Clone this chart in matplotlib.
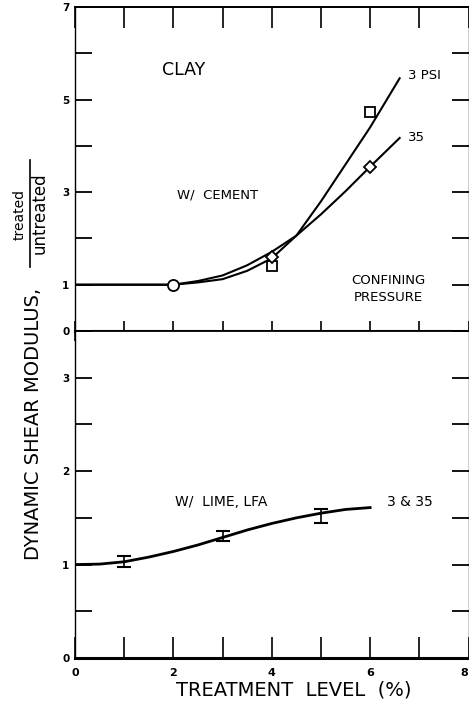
import matplotlib.pyplot as plt
from matplotlib.lines import Line2D
import numpy as np

# ---- upper panel: clay w/ cement ----
psi3_x = [0, 2, 2.5, 3, 3.5, 4, 4.5, 5, 5.5, 6, 6.6]
psi3_y = [1.0, 1.0, 1.05, 1.12, 1.3, 1.57, 2.06, 2.8, 3.6, 4.4, 5.46]
psi35_x = [0, 2, 2.5, 3, 3.5, 4, 4.5, 5, 5.5, 6, 6.6]
psi35_y = [1.0, 1.0, 1.08, 1.2, 1.42, 1.71, 2.06, 2.52, 3.02, 3.55, 4.17]

circle_pt = ([2], [1.0])
square_pts = ([4, 6], [1.4, 4.73])
diamond_pts = ([4, 6], [1.6, 3.54])

upper_yticks = [0, 1, 2, 3, 4, 5, 6, 7]
upper_yticklabels = ['0', '1', '', '3', '', '5', '', '7']

# ---- lower panel: w/ lime, LFA ----
lime_x = [0, 0.5, 1, 1.5, 2, 2.5, 3, 3.5, 4, 4.5, 5, 5.5, 6]
lime_y = [1.0, 1.005, 1.03, 1.08, 1.14, 1.21, 1.29, 1.37, 1.44, 1.5, 1.55, 1.59, 1.61]
err_x = [1, 3, 5]
err_lo = [0.97, 1.25, 1.44]
err_hi = [1.09, 1.36, 1.59]

lower_yticks = [0, 0.5, 1, 1.5, 2, 2.5, 3, 3.5]
lower_yticklabels = ['0', '', '1', '', '2', '', '3', '']
xticks = [0, 1, 2, 3, 4, 5, 6, 7, 8]
xticklabels = ['0', '', '2', '', '4', '', '6', '', '8']

plt.rcParams['font.family'] = ['DejaVu Sans']

W, H = 469, 704
fig = plt.figure(figsize=(W / 100, H / 100), dpi=100)

left = 75 / W
width = (468.5 - 75) / W
ax1 = fig.add_axes([left, 1 - 331 / H, width, (331 - 7) / H])
ax2 = fig.add_axes([left, 1 - 658 / H, width, (658 - 331) / H])

# upper
ax1.plot(psi3_x, psi3_y, color='black', lw=1.5)
ax1.plot(psi35_x, psi35_y, color='black', lw=1.5)
ax1.plot(*circle_pt, 'o', ms=8, mfc='white', mec='black', mew=1.3)
ax1.plot(*square_pts, 's', ms=7, mfc='white', mec='black', mew=1.3)
ax1.plot(*diamond_pts, 'D', ms=6.5, mfc='white', mec='black', mew=1.3)

ax1.set_xlim(0, 8)
ax1.set_ylim(0, 7)
ax1.set_yticks(upper_yticks)
ax1.set_yticklabels(upper_yticklabels)
ax1.set_xticks(xticks)
ax1.tick_params(axis='x', bottom=True, top=False, labelbottom=False,
                direction='inout', length=14, width=1.2)
sec = ax1.secondary_xaxis('top')
sec.set_xticks(xticks)
sec.tick_params(direction='in', length=15, width=1.2, labeltop=False)
sec.spines['top'].set_linewidth(1.3)

ax1.text(1.76, 5.64, 'CLAY', fontsize=12.5, va='center', ha='left')
ax1.text(2.07, 2.94, 'W/  CEMENT', fontsize=9.5, va='center', ha='left')
ax1.text(6.37, 0.9, 'CONFINING\nPRESSURE', fontsize=9.5, va='center', ha='center',
         linespacing=1.4)
ax1.text(6.76, 5.53, '3 PSI', fontsize=9.5, va='center', ha='left')
ax1.text(6.76, 4.19, '35', fontsize=9.5, va='center', ha='left')

# lower
ax2.plot(lime_x, lime_y, color='black', lw=2)
err_mid = [(a + b) / 2 for a, b in zip(err_lo, err_hi)]
err_half = [(b - a) / 2 for a, b in zip(err_lo, err_hi)]
ax2.errorbar(err_x, err_mid, yerr=err_half, fmt='none', ecolor='black',
             elinewidth=1.2, capsize=5, capthick=1.5)

ax2.set_xlim(0, 8)
ax2.set_ylim(0, 3.5)
ax2.set_yticks(lower_yticks)
ax2.set_yticklabels(lower_yticklabels)
ax2.set_xticks(xticks)
ax2.set_xticklabels(xticklabels)
ax2.tick_params(axis='x', bottom=True, top=False, direction='in', length=15,
                width=1.2, pad=7, labelsize=8)
ax2.get_xticklabels()[-1].set_horizontalalignment('right')

ax2.text(2.04, 1.67, 'W/  LIME, LFA', fontsize=10, va='center', ha='left')
ax2.text(6.35, 1.67, '3 & 35', fontsize=10, va='center', ha='left')

for ax in (ax1, ax2):
    ax.tick_params(axis='y', left=True, right=True, direction='in', length=12,
                   width=1.3, pad=4, labelsize=7.5)
    for lab in ax.get_yticklabels() + ax.get_xticklabels():
        lab.set_fontweight('bold')
    ax.spines['left'].set_linewidth(1.0)
    ax.spines['right'].set_linewidth(1.0)
    ax.spines['right'].set_linestyle((0, (4, 1)))
    ax.spines['bottom'].set_linewidth(2.2)
    ax.spines['top'].set_linewidth(1.3)

# axis labels
fig.text(0.627, 1 - 690 / H, 'TREATMENT  LEVEL  (%)', fontsize=14,
         ha='center', va='center')
fig.text(34 / W, 1 - 560 / H, 'DYNAMIC SHEAR MODULUS,', fontsize=14,
         rotation=90, ha='center', va='bottom')
fig.text(20 / W, 1 - 215 / H, 'treated', fontsize=10, rotation=90,
         ha='center', va='center')
fig.text(40 / W, 1 - 213 / H, 'untreated', fontsize=12, rotation=90,
         ha='center', va='center')
fig.add_artist(Line2D([30 / W, 30 / W], [1 - 267 / H, 1 - 160 / H],
                      transform=fig.transFigure, color='black', lw=1.2))

plt.savefig('out.png', dpi=100)
